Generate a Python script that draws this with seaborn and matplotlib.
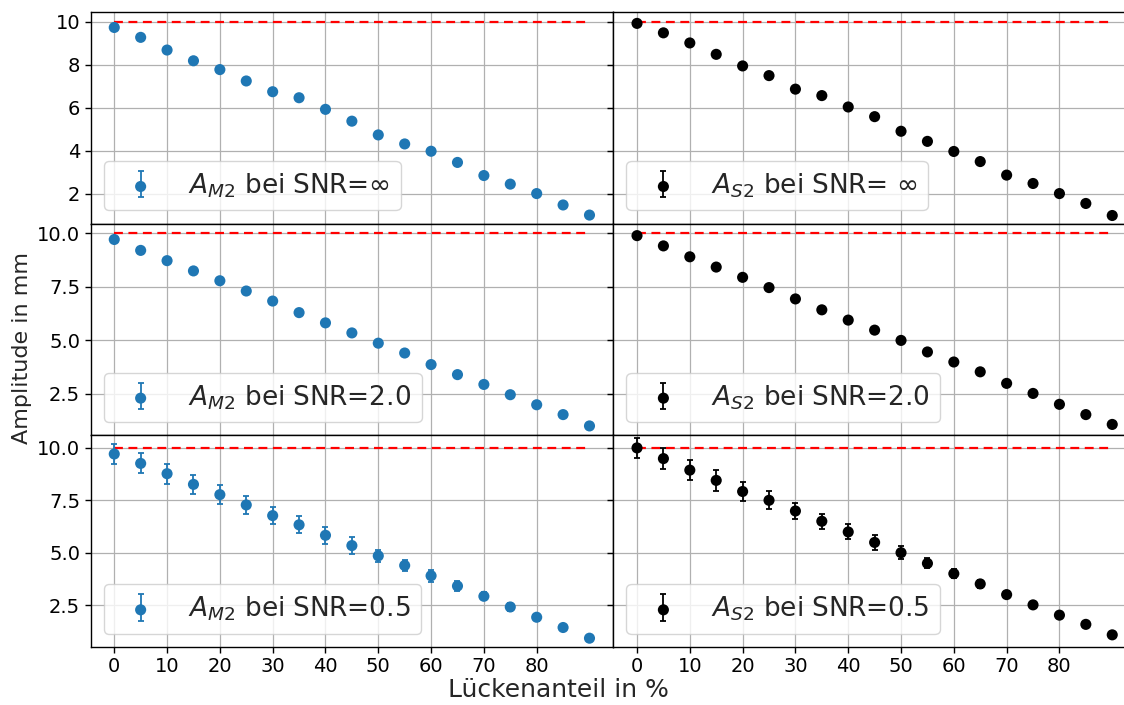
import numpy as np
import matplotlib
matplotlib.use("Agg")
import matplotlib.pyplot as plt
from matplotlib.legend_handler import HandlerTuple
import seaborn as sns

# ---------------- data ----------------
gap_percent = [0, 5, 10, 15, 20, 25, 30, 35, 40, 45, 50, 55, 60, 65, 70, 75, 80, 85, 90]
true_amplitude = 10.0

am2_inf = [9.73, 9.27, 8.68, 8.18, 7.77, 7.24, 6.74, 6.46, 5.92, 5.37, 4.73, 4.31, 3.97, 3.45, 2.84, 2.44, 2.00, 1.47, 1.00]
as2_inf = [9.92, 9.48, 9.01, 8.48, 7.94, 7.49, 6.86, 6.56, 6.03, 5.58, 4.90, 4.43, 3.96, 3.49, 2.86, 2.47, 2.00, 1.54, 0.98]
am2_inf_err = [0.0] * 19
as2_inf_err = [0.0] * 19

am2_snr2 = [9.71, 9.20, 8.72, 8.24, 7.78, 7.30, 6.83, 6.29, 5.81, 5.34, 4.86, 4.40, 3.86, 3.39, 2.93, 2.45, 1.98, 1.52, 0.99]
as2_snr2 = [9.89, 9.41, 8.90, 8.42, 7.94, 7.46, 6.93, 6.42, 5.94, 5.47, 4.99, 4.45, 3.98, 3.52, 2.98, 2.51, 2.00, 1.52, 1.06]
am2_snr2_err = [0.15, 0.15, 0.14, 0.14, 0.13, 0.13, 0.12, 0.12, 0.11, 0.11, 0.10, 0.09, 0.09, 0.08, 0.07, 0.07, 0.06, 0.05, 0.05]
as2_snr2_err = [0.15, 0.15, 0.14, 0.14, 0.13, 0.13, 0.12, 0.12, 0.11, 0.11, 0.10, 0.09, 0.09, 0.08, 0.07, 0.07, 0.06, 0.05, 0.05]

am2_snr05 = [9.71, 9.26, 8.77, 8.26, 7.77, 7.28, 6.77, 6.33, 5.83, 5.34, 4.85, 4.39, 3.90, 3.41, 2.92, 2.41, 1.92, 1.43, 0.92]
as2_snr05 = [10.00, 9.49, 8.94, 8.45, 7.92, 7.50, 6.99, 6.50, 5.99, 5.49, 5.00, 4.49, 4.00, 3.51, 3.00, 2.51, 2.02, 1.58, 1.08]
am2_snr05_err = [0.50, 0.48, 0.47, 0.46, 0.45, 0.42, 0.42, 0.41, 0.41, 0.40, 0.30, 0.26, 0.28, 0.22, 0.20, 0.18, 0.16, 0.14, 0.12]
as2_snr05_err = [0.48, 0.50, 0.48, 0.49, 0.44, 0.43, 0.38, 0.36, 0.36, 0.34, 0.30, 0.24, 0.22, 0.20, 0.18, 0.16, 0.14, 0.12, 0.10]

labels_left = [r"$A_{M2}$ bei SNR=$\infty$", r"$A_{M2}$ bei SNR=2.0", r"$A_{M2}$ bei SNR=0.5"]
labels_right = [r"$A_{S2}$ bei SNR= $\infty$", r"$A_{S2}$ bei SNR=2.0", r"$A_{S2}$ bei SNR=0.5"]

x_ticks = [0, 10, 20, 30, 40, 50, 60, 70, 80]
y_ticks_top = [2, 4, 6, 8, 10]
y_ticks_other = [2.5, 5.0, 7.5, 10.0]

# ---------------- plot ----------------
sns.set_style("ticks")
plt.rcParams["font.family"] = ["DejaVu Sans"]
plt.rcParams["axes.edgecolor"] = "black"
plt.rcParams["xtick.color"] = "black"
plt.rcParams["ytick.color"] = "black"

fig, axes = plt.subplots(3, 2, figsize=(11.24, 7.05), dpi=100, sharex=True, sharey="row")
fig.subplots_adjust(left=90.5 / 1124, right=1136 / 1124, top=1 - 12 / 705,
                    bottom=1 - 647 / 705, wspace=0, hspace=0)

left_data = [(am2_inf, am2_inf_err), (am2_snr2, am2_snr2_err), (am2_snr05, am2_snr05_err)]
right_data = [(as2_inf, as2_inf_err), (as2_snr2, as2_snr2_err), (as2_snr05, as2_snr05_err)]

for row in range(3):
    for col, (data, labels, color) in enumerate([(left_data, labels_left, "#1f77b4"),
                                                  (right_data, labels_right, "black")]):
        ax = axes[row, col]
        y, err = data[row]
        ax.hlines(true_amplitude, gap_percent[0], gap_percent[-1], colors="red",
                  linestyles=(0, (4, 2.5)), linewidth=1.6, zorder=2.5)
        eb = ax.errorbar(gap_percent, y, yerr=err, fmt="none", ecolor=color,
                         elinewidth=1.3, capsize=2, capthick=1.3, zorder=2.6)
        sns.scatterplot(x=gap_percent, y=y, color=color, s=64, edgecolor="none",
                        linewidth=0, ax=ax, zorder=3, legend=False)
        sc = ax.collections[-1]
        ax.grid(True, color="#b0b0b0", linewidth=0.9)
        ax.set_xticks(x_ticks)
        ax.set_yticks(y_ticks_top if row == 0 else y_ticks_other)
        ax.tick_params(labelsize=14, length=4, width=1)
        for sp in ax.spines.values():
            sp.set_linewidth(1.0)
            sp.set_color("black")
        ax.legend([(eb, sc)], [labels[row]], loc="lower left", fontsize=19,
                  handler_map={tuple: HandlerTuple(ndivide=1)},
                  handlelength=2.0, handletextpad=0.8, borderaxespad=0.5,
                  framealpha=0.8, edgecolor="#cccccc", fancybox=True)

axes[0, 0].set_ylim(0.6, 10.45)
axes[1, 0].set_ylim(0.55, 10.45)
axes[2, 0].set_ylim(0.5, 10.6)
axes[0, 0].set_xlim(-4.5, 94.5)

fig.text(22 / 1124, 1 - 348 / 705, "Amplitude in mm", rotation=90, ha="center",
         va="center", fontsize=16)
fig.text(558 / 1124, 1 - 690 / 705, "Lückenanteil in %", ha="center", va="center",
         fontsize=18)

fig.savefig("out.png", dpi=100)
